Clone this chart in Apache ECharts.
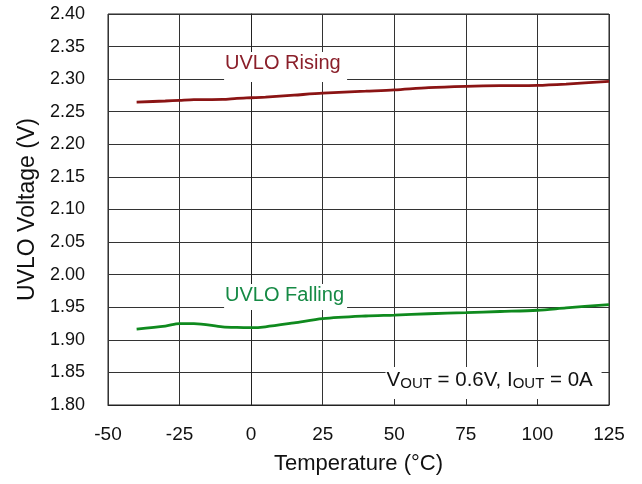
<!DOCTYPE html>
<html><head><meta charset="utf-8">
<script src="https://cdn.jsdelivr.net/npm/echarts@6/dist/echarts.min.js"></script>
<style>html,body{margin:0;padding:0;background:#fff}#c{width:642px;height:484px}</style>
</head><body><div id="c"></div>
<script>
const temps = [-40, -30, -25, -20, -10, -5, 0, 5, 15, 25, 40, 50, 62, 75, 87, 100, 110, 125];
const uvloRising = [2.2648, 2.2665, 2.2675, 2.2685, 2.2690, 2.2705, 2.2715, 2.2725, 2.2755, 2.2785, 2.2815, 2.2835, 2.2870, 2.2890, 2.2900, 2.2905, 2.2925, 2.2965];
const uvloFalling = [1.9165, 1.9210, 1.9250, 1.9250, 1.9200, 1.9190, 1.9187, 1.9200, 1.9260, 1.9325, 1.9366, 1.9380, 1.9400, 1.9418, 1.9435, 1.9454, 1.9490, 1.9540];
const xTicks = [-50, -25, 0, 25, 50, 75, 100, 125];
const yTicks = [1.80, 1.85, 1.90, 1.95, 2.00, 2.05, 2.10, 2.15, 2.20, 2.25, 2.30, 2.35, 2.40];
const seriesNames = ['UVLO Rising', 'UVLO Falling'];

const chart = echarts.init(document.getElementById('c'));
const font = 'Liberation Sans, Arial, sans-serif';
const gridLine = {show: true, lineStyle: {color: '#333', width: 1}};
chart.setOption({
  animation: false,
  backgroundColor: '#fff',
  grid: {left: 108, right: 33, top: 14, bottom: 79, show: true, borderColor: '#222', borderWidth: 1},
  xAxis: {
    type: 'value', min: xTicks[0], max: xTicks[xTicks.length - 1], interval: 25,
    name: 'Temperature (°C)', nameLocation: 'middle', nameGap: 48,
    nameTextStyle: {fontFamily: font, fontSize: 22, color: '#111'},
    axisLine: {show: true, lineStyle: {color: '#222'}}, axisTick: {show: false},
    axisLabel: {fontFamily: font, fontSize: 19, color: '#111', margin: 20},
    splitLine: gridLine
  },
  yAxis: {
    type: 'value', min: yTicks[0], max: yTicks[yTicks.length - 1], interval: 0.05,
    name: 'UVLO Voltage (V)', nameLocation: 'middle', nameGap: 69, nameRotate: 90,
    nameTextStyle: {fontFamily: font, fontSize: 23, color: '#111'},
    axisLine: {show: true, lineStyle: {color: '#222'}}, axisTick: {show: false},
    axisLabel: {fontFamily: font, fontSize: 18, color: '#111', margin: 23, formatter: v => v.toFixed(2)},
    splitLine: gridLine
  },
  series: [
    {name: seriesNames[0], type: 'line', data: temps.map((t, i) => [t, uvloRising[i]]), showSymbol: false, smooth: 0.3,
     lineStyle: {color: '#8b1414', width: 2.8}, z: 3},
    {name: seriesNames[1], type: 'line', data: temps.map((t, i) => [t, uvloFalling[i]]), showSymbol: false, smooth: 0.3,
     lineStyle: {color: '#0f8a1e', width: 2.8}, z: 3}
  ]
});

function px(x, y) { return chart.convertToPixel({gridIndex: 0}, [x, y]); }
const pR = px(-9.1, 2.3233);
const pF = px(-9.1, 1.9673);
const pV = px(47.3, 1.8384);
chart.setOption({
  graphic: [
    {type: 'rect', shape: {x: pR[0] - 1, y: pR[1] - 12, width: 123, height: 30}, style: {fill: '#fff'}, z: 10},
    {type: 'text', x: pR[0], y: pR[1], style: {text: seriesNames[0], fontFamily: font, fontSize: 20, fill: '#8a1f2a', verticalAlign: 'middle'}, z: 11},
    {type: 'rect', shape: {x: pF[0] - 1, y: pF[1] - 12, width: 123, height: 26}, style: {fill: '#fff'}, z: 10},
    {type: 'text', x: pF[0], y: pF[1], style: {text: seriesNames[1], fontFamily: font, fontSize: 20, fill: '#168a45', verticalAlign: 'middle'}, z: 11},
    {type: 'rect', shape: {x: pV[0] - 1, y: pV[1] - 13, width: 216, height: 32}, style: {fill: '#fff'}, z: 10},
    {type: 'text', x: pV[0], y: pV[1], z: 11,
     style: {text: '{n|V}{s|OUT}{n| = 0.6V, I}{s|OUT}{n| = 0A}', verticalAlign: 'middle', fontFamily: font,
       rich: {n: {fontFamily: font, fontSize: 20.5, fill: '#111', verticalAlign: 'bottom', lineHeight: 22},
              s: {fontFamily: font, fontSize: 15, fill: '#111', verticalAlign: 'bottom', lineHeight: 19}}}}
  ]
});
</script></body></html>
